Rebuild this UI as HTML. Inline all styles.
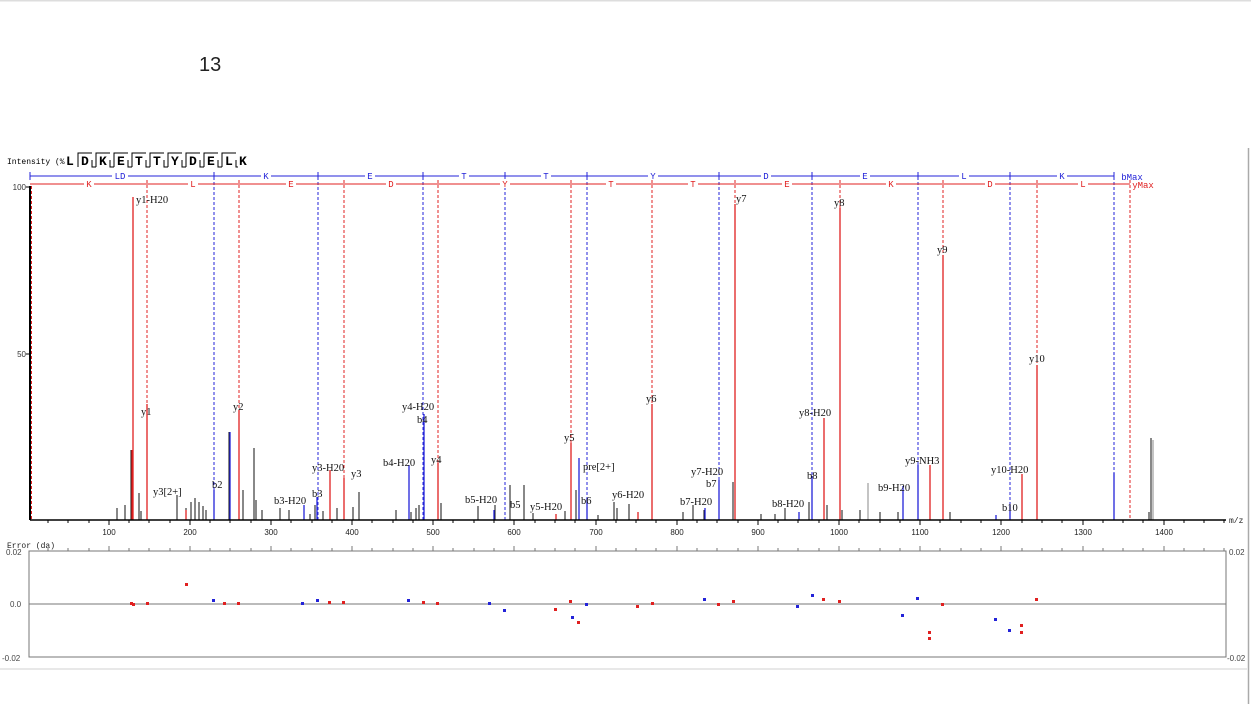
<!DOCTYPE html>
<html><head><meta charset="utf-8"><style>
body{margin:0;background:#fff;width:1251px;height:704px;overflow:hidden;font-family:"Liberation Sans",sans-serif}
svg{position:absolute;left:0;top:0}
.m{font-family:"Liberation Mono",monospace}
.s{font-family:"Liberation Serif",serif}
</style></head><body>
<svg width="1251" height="704" viewBox="0 0 1251 704" xmlns="http://www.w3.org/2000/svg">
<rect x="0" y="0" width="1251" height="1.5" fill="#ddd"/>
<line x1="1248.5" y1="148" x2="1248.5" y2="704" stroke="#aaa" stroke-width="1.5"/>
<line x1="0" y1="669" x2="1248" y2="669" stroke="#e8e8e8" stroke-width="2"/>
<text x="199" y="71" font-size="20" fill="#222">13</text>

<text x="7" y="164" font-size="8" class="m" fill="#000">Intensity (%</text>
<g class="m" font-size="13" font-weight="bold" fill="#000">
<text x="66" y="165">L</text>
<g fill="none" stroke="#000" stroke-width="1">
<path d="M78 167V153H92M92 160V167H96"/>
<path d="M96 167V153H110M110 160V167H114"/>
<path d="M114 167V153H128M128 160V167H132"/>
<path d="M132 167V153H146M146 160V167H150"/>
<path d="M150 167V153H164M164 160V167H168"/>
<path d="M168 167V153H182M182 160V167H186"/>
<path d="M186 167V153H200M200 160V167H204"/>
<path d="M204 167V153H218M218 160V167H222"/>
<path d="M222 167V153H236M236 160V167H238"/>
</g>
<text x="81" y="165">D</text><text x="99" y="165">K</text><text x="117" y="165">E</text><text x="135" y="165">T</text><text x="153" y="165">T</text><text x="171" y="165">Y</text><text x="189" y="165">D</text><text x="207" y="165">E</text><text x="225" y="165">L</text><text x="239" y="165">K</text>
</g>

<!-- ladders -->
<g stroke="#2323d8" stroke-width="1">
<line x1="30" y1="176" x2="1114" y2="176"/>
<g stroke-dasharray="3,2">
<line x1="214" y1="172" x2="214" y2="520"/><line x1="318" y1="172" x2="318" y2="520"/><line x1="423" y1="172" x2="423" y2="520"/><line x1="505" y1="172" x2="505" y2="520"/><line x1="587" y1="172" x2="587" y2="520"/><line x1="719" y1="172" x2="719" y2="520"/><line x1="812" y1="172" x2="812" y2="520"/><line x1="918" y1="172" x2="918" y2="520"/><line x1="1010" y1="172" x2="1010" y2="520"/><line x1="1114" y1="172" x2="1114" y2="520"/>
</g>
<path d="M30 172v8M214 172v8M318 172v8M423 172v8M505 172v8M587 172v8M719 172v8M812 172v8M918 172v8M1010 172v8M1114 172v8"/>
</g>
<g stroke="#e02020" stroke-width="1">
<line x1="30" y1="184" x2="1130" y2="184"/>
<g stroke-dasharray="3,2">
<line x1="147" y1="180" x2="147" y2="520"/><line x1="239" y1="180" x2="239" y2="520"/><line x1="344" y1="180" x2="344" y2="520"/><line x1="438" y1="180" x2="438" y2="520"/><line x1="571" y1="180" x2="571" y2="520"/><line x1="652" y1="180" x2="652" y2="520"/><line x1="735" y1="180" x2="735" y2="520"/><line x1="840" y1="180" x2="840" y2="520"/><line x1="943" y1="180" x2="943" y2="520"/><line x1="1037" y1="180" x2="1037" y2="520"/><line x1="1130" y1="180" x2="1130" y2="520"/>
</g>
</g>
<g class="m" font-size="9" text-anchor="middle">
<g fill="#2323d8">
<rect x="112" y="171" width="16" height="9" fill="#fff"/><text x="120" y="179">LD</text>
<rect x="261" y="171" width="10" height="9" fill="#fff"/><text x="266" y="179">K</text>
<rect x="365" y="171" width="10" height="9" fill="#fff"/><text x="370" y="179">E</text>
<rect x="459" y="171" width="10" height="9" fill="#fff"/><text x="464" y="179">T</text>
<rect x="541" y="171" width="10" height="9" fill="#fff"/><text x="546" y="179">T</text>
<rect x="648" y="171" width="10" height="9" fill="#fff"/><text x="653" y="179">Y</text>
<rect x="761" y="171" width="10" height="9" fill="#fff"/><text x="766" y="179">D</text>
<rect x="860" y="171" width="10" height="9" fill="#fff"/><text x="865" y="179">E</text>
<rect x="959" y="171" width="10" height="9" fill="#fff"/><text x="964" y="179">L</text>
<rect x="1057" y="171" width="10" height="9" fill="#fff"/><text x="1062" y="179">K</text>
<text x="1132" y="180">bMax</text>
</g>
<g fill="#e02020">
<rect x="84" y="179" width="10" height="9" fill="#fff"/><text x="89" y="187">K</text>
<rect x="188" y="179" width="10" height="9" fill="#fff"/><text x="193" y="187">L</text>
<rect x="286" y="179" width="10" height="9" fill="#fff"/><text x="291" y="187">E</text>
<rect x="386" y="179" width="10" height="9" fill="#fff"/><text x="391" y="187">D</text>
<rect x="500" y="179" width="10" height="9" fill="#fff"/><text x="505" y="187">Y</text>
<rect x="606" y="179" width="10" height="9" fill="#fff"/><text x="611" y="187">T</text>
<rect x="688" y="179" width="10" height="9" fill="#fff"/><text x="693" y="187">T</text>
<rect x="782" y="179" width="10" height="9" fill="#fff"/><text x="787" y="187">E</text>
<rect x="886" y="179" width="10" height="9" fill="#fff"/><text x="891" y="187">K</text>
<rect x="985" y="179" width="10" height="9" fill="#fff"/><text x="990" y="187">D</text>
<rect x="1078" y="179" width="10" height="9" fill="#fff"/><text x="1083" y="187">L</text>
<text x="1143" y="188">yMax</text>
</g>
</g>

<!-- y axis -->
<line x1="30" y1="186" x2="30" y2="520" stroke="#000" stroke-width="2"/>
<line x1="31.5" y1="186" x2="31.5" y2="520" stroke="#e02020" stroke-width="1" stroke-dasharray="3,2"/>
<g stroke="#000"><line x1="26" y1="187" x2="30" y2="187"/><line x1="26" y1="354" x2="30" y2="354"/></g>
<g font-size="8" fill="#333" text-anchor="end"><text x="26" y="190">100</text><text x="26" y="357">50</text></g>

<!-- black peaks -->
<g stroke="#111" stroke-width="1">
<path d="M117 520v-12M125 520v-15M131 520v-70M139 520v-27M141 520v-9M177 520v-25M186 520v-12M191 520v-18M195 520v-22M199 520v-18M203 520v-14M206 520v-10M229 520v-88M243 520v-30M254 520v-72M256 520v-20M262 520v-10M280 520v-12M289 520v-10M310 520v-6M315 520v-15M323 520v-9M337 520v-12M353 520v-13M359 520v-28M396 520v-10M411 520v-8M416 520v-12M419 520v-15M441 520v-17M478 520v-14M495 520v-15M510 520v-35M524 520v-35M533 520v-7M565 520v-9M576 520v-30M598 520v-5M614 520v-18M617 520v-12M629 520v-16M683 520v-8M693 520v-15M704 520v-10M733 520v-38M761 520v-6M775 520v-6M785 520v-12M809 520v-18M827 520v-15M842 520v-10M860 520v-10M880 520v-8M898 520v-8M950 520v-8M1151 520v-82M1149 520v-8"/>
</g>
<g stroke="#888" stroke-width="1"><path d="M868 520v-37M1153 520v-80"/></g>
<!-- blue peaks -->
<g stroke="#2323d8" stroke-width="1.3">
<path d="M214 520v-30M230 520v-88M304 520v-15M317 520v-23M409 520v-55M424 520v-106M494 520v-10M579 520v-62M587 520v-22M705 520v-12M719 520v-40M799 520v-8M812 520v-44M903 520v-34M918 520v-55M996 520v-5M1010 520v-15M1114 520v-47"/>
</g>
<!-- red peaks -->
<g stroke="#e02020" stroke-width="1.3">
<path d="M133 520v-323M132 520v-70M147 520v-116M186 520v-10M239 520v-110M330 520v-50M344 520v-42M438 520v-57M571 520v-77M652 520v-116M735 520v-316M824 520v-102M840 520v-312M930 520v-55M943 520v-265M1022 520v-46M1037 520v-155M556 520v-6M638 520v-8"/>
</g>

<!-- x axis -->
<line x1="30" y1="520" x2="1226" y2="520" stroke="#000" stroke-width="1.5"/>
<g stroke="#000" stroke-width="1">
<path d="M48 520v3M68 520v3M89 520v3M109 520v5M129 520v3M149 520v3M170 520v3M190 520v5M210 520v3M230 520v3M251 520v3M271 520v5M291 520v3M312 520v3M332 520v3M352 520v5M372 520v3M393 520v3M413 520v3M433 520v5M453 520v3M474 520v3M494 520v3M514 520v5M535 520v3M555 520v3M575 520v3M596 520v5M616 520v3M636 520v3M656 520v3M677 520v5M697 520v3M717 520v3M738 520v3M758 520v5M778 520v3M798 520v3M819 520v3M839 520v5M859 520v3M880 520v3M900 520v3M920 520v5M940 520v3M961 520v3M981 520v3M1001 520v5M1022 520v3M1042 520v3M1062 520v3M1083 520v5M1103 520v3M1123 520v3M1143 520v3M1164 520v5M1184 520v3M1204 520v3M1224 520v3"/>
</g>
<g font-size="8" fill="#222" text-anchor="middle">
<text x="109" y="535">100</text><text x="190" y="535">200</text><text x="271" y="535">300</text><text x="352" y="535">400</text><text x="433" y="535">500</text><text x="514" y="535">600</text><text x="596" y="535">700</text><text x="677" y="535">800</text><text x="758" y="535">900</text><text x="839" y="535">1000</text><text x="920" y="535">1100</text><text x="1001" y="535">1200</text><text x="1083" y="535">1300</text><text x="1164" y="535">1400</text>
</g>
<text x="1229" y="523" font-size="8" class="m" fill="#222">m/z</text>

<!-- peak labels -->
<g class="s" font-size="10.5" fill="#111">
<text x="136" y="203">y1-H20</text><text x="141" y="415">y1</text><text x="233" y="410">y2</text>
<text x="153" y="495">y3[2+]</text><text x="212" y="488">b2</text><text x="274" y="504">b3-H20</text><text x="312" y="497">b3</text>
<text x="312" y="471">y3-H20</text><text x="351" y="477">y3</text><text x="383" y="466">b4-H20</text>
<text x="402" y="410">y4-H20</text><text x="417" y="423">b4</text><text x="431" y="463">y4</text>
<text x="465" y="503">b5-H20</text><text x="510" y="508">b5</text><text x="530" y="510">y5-H20</text>
<text x="564" y="441">y5</text><text x="583" y="470">pre[2+]</text><text x="581" y="504">b6</text><text x="612" y="498">y6-H20</text>
<text x="646" y="402">y6</text><text x="680" y="505">b7-H20</text><text x="691" y="475">y7-H20</text><text x="706" y="487">b7</text>
<text x="736" y="202">y7</text><text x="772" y="507">b8-H20</text><text x="799" y="416">y8-H20</text><text x="807" y="479">b8</text>
<text x="834" y="206">y8</text><text x="878" y="491">b9-H20</text><text x="905" y="464">y9-NH3</text><text x="937" y="253">y9</text>
<text x="991" y="473">y10-H20</text><text x="1002" y="511">b10</text><text x="1029" y="362">y10</text>
</g>

<!-- error panel -->
<text x="7" y="548" font-size="8" class="m" fill="#222">Error (da)</text>
<rect x="29" y="551" width="1197" height="106" fill="none" stroke="#777" stroke-width="1"/>
<line x1="29" y1="604" x2="1226" y2="604" stroke="#777" stroke-width="1"/>
<g stroke="#777"><path d="M48 551v-3M68 551v-3M89 551v-3M109 551v-5M129 551v-3M149 551v-3M170 551v-3M190 551v-5M210 551v-3M230 551v-3M251 551v-3M271 551v-5M291 551v-3M312 551v-3M332 551v-3M352 551v-5M372 551v-3M393 551v-3M413 551v-3M433 551v-5M453 551v-3M474 551v-3M494 551v-3M514 551v-5M535 551v-3M555 551v-3M575 551v-3M596 551v-5M616 551v-3M636 551v-3M656 551v-3M677 551v-5M697 551v-3M717 551v-3M738 551v-3M758 551v-5M778 551v-3M798 551v-3M819 551v-3M839 551v-5M859 551v-3M880 551v-3M900 551v-3M920 551v-5M940 551v-3M961 551v-3M981 551v-3M1001 551v-5M1022 551v-3M1042 551v-3M1062 551v-3M1083 551v-5M1103 551v-3M1123 551v-3M1143 551v-3M1164 551v-5M1184 551v-3M1204 551v-3M1224 551v-3"/></g>
<g font-size="8" fill="#444"><text x="6" y="555">0.02</text><text x="10" y="607">0.0</text><text x="2" y="661">-0.02</text><text x="1229" y="555">0.02</text><text x="1227" y="661">-0.02</text></g>
<g fill="#e02020">
<rect x="130" y="602" width="3" height="3"/><rect x="132" y="603" width="3" height="3"/><rect x="146" y="602" width="3" height="3"/><rect x="185" y="583" width="3" height="3"/><rect x="223" y="602" width="3" height="3"/><rect x="237" y="602" width="3" height="3"/><rect x="328" y="601" width="3" height="3"/><rect x="342" y="601" width="3" height="3"/><rect x="422" y="601" width="3" height="3"/><rect x="436" y="602" width="3" height="3"/><rect x="554" y="608" width="3" height="3"/><rect x="569" y="600" width="3" height="3"/><rect x="577" y="621" width="3" height="3"/><rect x="636" y="605" width="3" height="3"/><rect x="651" y="602" width="3" height="3"/><rect x="717" y="603" width="3" height="3"/><rect x="732" y="600" width="3" height="3"/><rect x="822" y="598" width="3" height="3"/><rect x="838" y="600" width="3" height="3"/><rect x="928" y="631" width="3" height="3"/><rect x="928" y="637" width="3" height="3"/><rect x="941" y="603" width="3" height="3"/><rect x="1020" y="624" width="3" height="3"/><rect x="1020" y="631" width="3" height="3"/><rect x="1035" y="598" width="3" height="3"/>
</g>
<g fill="#2323d8">
<rect x="212" y="599" width="3" height="3"/><rect x="301" y="602" width="3" height="3"/><rect x="316" y="599" width="3" height="3"/><rect x="407" y="599" width="3" height="3"/><rect x="488" y="602" width="3" height="3"/><rect x="503" y="609" width="3" height="3"/><rect x="571" y="616" width="3" height="3"/><rect x="585" y="603" width="3" height="3"/><rect x="703" y="598" width="3" height="3"/><rect x="796" y="605" width="3" height="3"/><rect x="811" y="594" width="3" height="3"/><rect x="901" y="614" width="3" height="3"/><rect x="916" y="597" width="3" height="3"/><rect x="994" y="618" width="3" height="3"/><rect x="1008" y="629" width="3" height="3"/>
</g>
</svg>
</body></html>
